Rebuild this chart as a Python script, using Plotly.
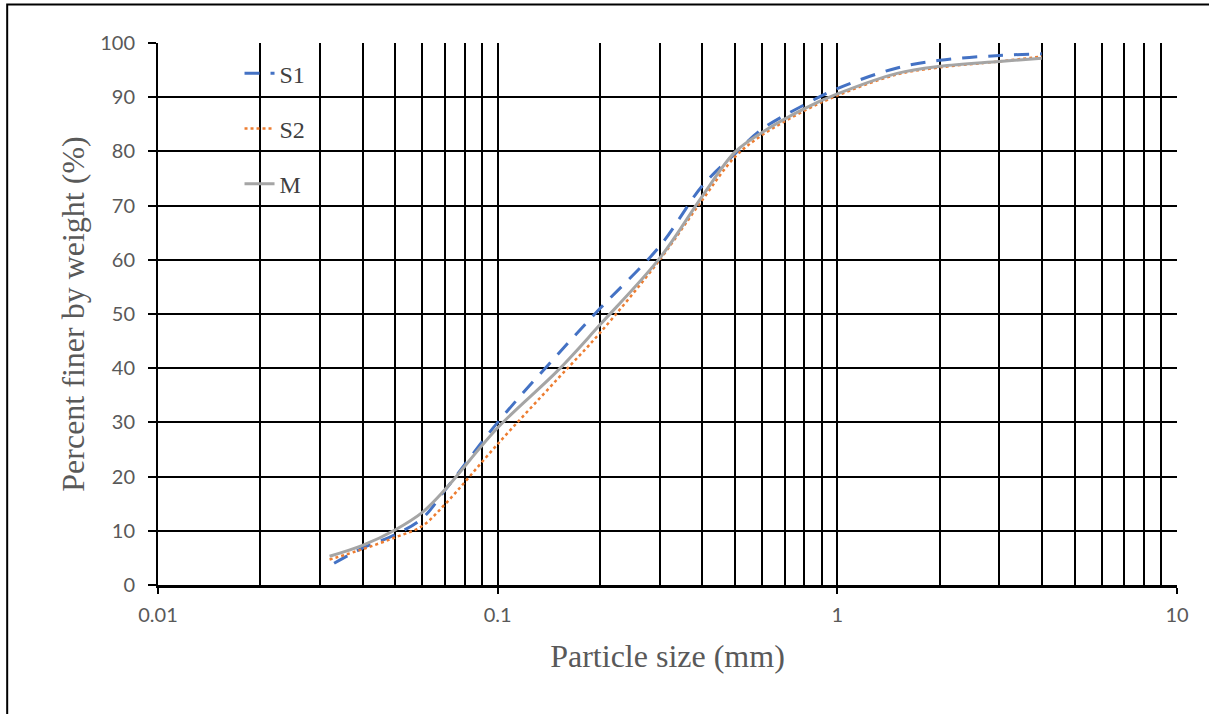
import plotly.graph_objects as go

# Data
s1_x = [0.033, 0.04, 0.05, 0.06, 0.07, 0.1, 0.15, 0.2, 0.3, 0.4, 0.5, 0.6, 0.8, 1, 1.5, 2, 3, 4]
s1_y = [4.0, 6.8, 9.3, 12.3, 17.5, 30.0, 42.5, 51.0, 62.5, 73.6, 79.6, 84.1, 88.6, 91.6, 95.4, 96.8, 97.7, 98.0]

s2_x = [0.032, 0.04, 0.05, 0.06, 0.07, 0.1, 0.15, 0.2, 0.3, 0.4, 0.5, 0.6, 0.8, 1, 1.5, 2, 3, 4]
s2_y = [4.7, 6.6, 8.8, 10.9, 14.9, 26.0, 38.0, 46.5, 60.0, 71.0, 79.0, 83.0, 87.5, 90.3, 94.2, 95.5, 96.6, 97.5]

m_x = [0.032, 0.04, 0.05, 0.06, 0.07, 0.1, 0.15, 0.2, 0.3, 0.4, 0.5, 0.6, 0.8, 1, 1.5, 2, 3, 4]
m_y = [5.3, 7.3, 10.2, 13.4, 17.6, 29.0, 39.5, 48.0, 60.3, 71.7, 79.9, 83.5, 87.9, 90.6, 94.4, 95.7, 96.6, 97.2]

x_major = [0.01, 0.1, 1, 10]
x_major_text = ["0.01", "0.1", "1", "10"]
x_minor = [m * d for d in (0.01, 0.1, 1) for m in range(2, 10)]
y_ticks = list(range(0, 101, 10))

fig = go.Figure()
fig.add_trace(go.Scatter(x=s1_x, y=s1_y, mode="lines", name="S1", legendgroup="a",
                         line=dict(color="#4472C4", width=3, dash="15px,11px", shape="spline")))
fig.add_trace(go.Scatter(x=s2_x, y=s2_y, mode="lines", name="S2", legendgroup="b",
                         line=dict(color="#ED7D31", width=2.5, dash="dot", shape="spline")))
fig.add_trace(go.Scatter(x=m_x, y=m_y, mode="lines", name="M", legendgroup="c",
                         line=dict(color="#A5A5A5", width=3, shape="spline")))

tick_font = dict(family="Lato, Liberation Sans, sans-serif", size=20, color="#595959")
title_font = dict(family="Liberation Serif, Times New Roman, serif", size=32, color="#595959")

fig.update_layout(
    width=1209, height=714,
    margin=dict(l=158, r=32, t=43, b=129),
    paper_bgcolor="white", plot_bgcolor="white",
    showlegend=True,
    legend=dict(x=0.08, y=0.985, xanchor="left", yanchor="top",
                bgcolor="rgba(0,0,0,0)", tracegroupgap=21,
                font=dict(family="Liberation Serif", size=24, color="#404040")),
    xaxis=dict(type="log", range=[-2, 1], tickmode="array", tickvals=x_major, ticktext=x_major_text,
               showgrid=True, gridcolor="black", gridwidth=2,
               ticks="outside", ticklen=6, tickwidth=2, tickcolor="black",
               showline=True, linecolor="black", linewidth=3,
               tickfont=tick_font, ticklabelstandoff=4,
               minor=dict(tickmode="array", tickvals=x_minor, showgrid=True, gridcolor="black",
                          gridwidth=2, ticks=""),
               title=dict(text="Particle size (mm)", font=title_font, standoff=20),
               zeroline=False),
    yaxis=dict(range=[0, 100], tickmode="array", tickvals=y_ticks,
               showgrid=True, gridcolor="black", gridwidth=2,
               ticks="outside", ticklen=8, tickwidth=2, tickcolor="black",
               showline=True, linecolor="black", linewidth=2,
               tickfont=tick_font, ticklabelstandoff=9,
               title=dict(text="Percent finer by weight (%)", font=title_font, standoff=6),
               zeroline=False),
    shapes=[dict(type="rect", xref="paper", yref="paper",
                 x0=-0.148, x1=1.2, y0=-0.4, y1=1.071,
                 line=dict(color="black", width=2), fillcolor="rgba(0,0,0,0)", layer="below")],
)

fig.write_html("out.html", config={"displayModeBar": False},
               post_script="document.body.style.margin='0';document.body.style.overflow='hidden';")
